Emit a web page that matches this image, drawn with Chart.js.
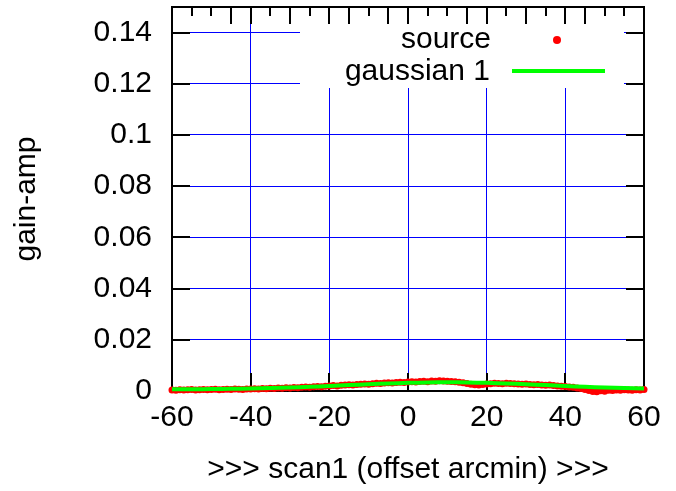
<!DOCTYPE html>
<html>
<head>
<meta charset="utf-8">
<script src="https://cdn.jsdelivr.net/npm/chart.js@4.4.1/dist/chart.umd.min.js"></script>
<style>
html,body{margin:0;padding:0;background:#fff;}
#wrap{width:676px;height:491px;}
</style>
</head>
<body>
<div id="wrap"><canvas id="c" width="676" height="491"></canvas></div>
<script>
// ---- data ----
const xTickLabels = [-60, -40, -20, 0, 20, 40, 60];
const yTickLabels = [0, 0.02, 0.04, 0.06, 0.08, 0.1, 0.12, 0.14];
const sourceX = [];
for (let v = -60; v <= 60; v++) sourceX.push(v);
const sourceY = [
  0.0004,0.0003,0.0005,0.0004,0.0005,0.0006,0.0004,0.0005,0.0006,0.0005,
  0.0006,0.0007,0.0005,0.0006,0.0007,0.0006,0.0008,0.0007,0.0006,0.0008,
  0.0008,0.0009,0.0008,0.0010,0.0009,0.0011,0.0010,0.0012,0.0011,0.0013,
  0.0012,0.0014,0.0013,0.0015,0.0016,0.0015,0.0017,0.0018,0.0017,0.0019,
  0.0020,0.0021,0.0020,0.0022,0.0023,0.0024,0.0023,0.0025,0.0026,0.0027,
  0.0026,0.0028,0.0030,0.0029,0.0031,0.0032,0.0031,0.0033,0.0034,0.0033,
  0.0035,0.0036,0.0035,0.0037,0.0038,0.0036,0.0039,0.0038,0.0040,0.0039,
  0.0038,0.0037,0.0036,0.0034,0.0032,0.0029,0.0026,0.0024,0.0023,0.0025,
  0.0027,0.0028,0.0030,0.0029,0.0028,0.0030,0.0029,0.0028,0.0027,0.0026,
  0.0027,0.0025,0.0024,0.0025,0.0023,0.0022,0.0023,0.0021,0.0020,0.0019,
  0.0018,0.0016,0.0015,0.0012,0.0010,0.0006,0.0002,-0.0002,-0.0003,0.0001,
  -0.0001,0.0003,0.0002,0.0004,0.0003,0.0005,0.0004,0.0003,0.0005,0.0004,
  0.0006
];
const gaussX = [-60,-55,-50,-45,-40,-35,-30,-25,-20,-15,-10,-5,0,5,10,15,20,25,30,35,40,45,50,55,60];
const gaussY = [0.00066,0.00070,0.00076,0.00085,0.00098,0.00115,0.00138,0.00165,0.00196,0.00230,0.00263,0.00294,0.00318,0.00334,0.00340,0.00334,0.00318,0.00294,0.00263,0.00230,0.00196,0.00165,0.00138,0.00115,0.00098];
const seriesNames = ['source', 'gaussian 1'];
const xTitle = '>>> scan1 (offset arcmin) >>>';
const yTitle = 'gain-amp';
// top-border tick pattern (true = long tick), every 5 units from -55 to 55
const topTickLong = [false,false,true,true,false,true,false,true,true,false,true,true,false,false,true,true,false,true,false,true,true,false,false];

const FONT = 'Liberation Sans, Arial, sans-serif';

const framePlugin = {
  id: 'frame',
  beforeDatasetsDraw(chart) {
    const {ctx, chartArea: a, scales: {x, y}} = chart;
    ctx.save();
    // legend background
    ctx.fillStyle = '#fff';
    ctx.fillRect(300, a.top + 1, 324, 80);
    ctx.strokeStyle = '#000';
    ctx.lineWidth = 2;
    ctx.beginPath();
    // left/right ticks
    yTickLabels.forEach(v => {
      if (v === 0) return;
      const py = Math.round(y.getPixelForValue(v));
      ctx.moveTo(a.left, py); ctx.lineTo(a.left + 18, py);
      ctx.moveTo(a.right, py); ctx.lineTo(a.right - 18, py);
    });
    // bottom ticks
    xTickLabels.forEach(v => {
      if (v === -60 || v === 60) return;
      const px = Math.round(x.getPixelForValue(v));
      ctx.moveTo(px, a.bottom); ctx.lineTo(px, a.bottom - 18);
    });
    // top ticks
    topTickLong.forEach((lng, i) => {
      const v = -55 + 5 * i;
      const px = Math.round(x.getPixelForValue(v));
      ctx.moveTo(px, a.top); ctx.lineTo(px, a.top + (lng ? 17 : 9));
    });
    ctx.stroke();
    // frame
    ctx.strokeRect(a.left, a.top, a.right - a.left, a.bottom - a.top);
    // legend
    ctx.fillStyle = '#000';
    ctx.font = '30px ' + FONT;
    ctx.textAlign = 'right';
    ctx.textBaseline = 'alphabetic';
    ctx.fillText(seriesNames[0], 491, 48);
    ctx.fillText(seriesNames[1], 490, 80);
    ctx.fillStyle = '#ff0000';
    ctx.beginPath();
    ctx.arc(557, 40, 4, 0, Math.PI * 2);
    ctx.fill();
    ctx.strokeStyle = '#00ff00';
    ctx.lineWidth = 4;
    ctx.beginPath();
    ctx.moveTo(512, 71); ctx.lineTo(605, 71);
    ctx.stroke();
    ctx.restore();
  }
};

new Chart(document.getElementById('c'), {
  type: 'scatter',
  data: {
    datasets: [
      {
        label: seriesNames[0],
        data: sourceX.map((v, i) => ({x: v, y: sourceY[i]})),
        backgroundColor: '#ff0000',
        borderColor: '#ff0000',
        pointRadius: 3.5,
        pointBorderWidth: 0,
        showLine: false,
        clip: false,
        order: 2
      },
      {
        label: seriesNames[1],
        data: gaussX.map((v, i) => ({x: v, y: gaussY[i]})),
        borderColor: '#00ff00',
        backgroundColor: '#00ff00',
        borderWidth: 4,
        pointRadius: 0,
        showLine: true,
        tension: 0.3,
        clip: false,
        order: 1
      }
    ]
  },
  options: {
    responsive: false,
    animation: false,
    devicePixelRatio: 1,
    layout: {padding: {top: 7, right: 32, left: 0, bottom: 0}},
    plugins: {legend: {display: false}, tooltip: {enabled: false}},
    scales: {
      x: {
        type: 'linear',
        min: -60, max: 60,
        afterFit(s) { s.height = 100; s.paddingLeft = 0; s.paddingRight = 0; },
        afterBuildTicks(s) { s.ticks = xTickLabels.map(v => ({value: v})); },
        ticks: {
          font: {size: 30, family: FONT},
          color: '#000',
          padding: 9,
          maxRotation: 0,
          callback: v => String(v)
        },
        grid: {
          color: c => (c.tick && (c.tick.value === -60 || c.tick.value === 60)) ? 'rgba(0,0,0,0)' : '#0000ff',
          lineWidth: 1,
          drawTicks: false
        },
        border: {display: false},
        title: {
          display: true,
          text: xTitle,
          color: '#000',
          font: {size: 30, family: FONT},
          padding: {top: 0, bottom: 3}
        }
      },
      y: {
        type: 'linear',
        min: 0, max: 0.15,
        afterFit(s) { s.width = 172; s.paddingTop = 0; s.paddingBottom = 0; },
        afterBuildTicks(s) { s.ticks = yTickLabels.map(v => ({value: v})); },
        ticks: {
          font: {size: 30, family: FONT},
          color: '#000',
          padding: 20,
          callback: v => String(Number(v.toFixed(2)))
        },
        grid: {
          color: c => (c.tick && c.tick.value === 0) ? 'rgba(0,0,0,0)' : '#0000ff',
          lineWidth: 1,
          drawTicks: false
        },
        border: {display: false},
        title: {
          display: true,
          text: yTitle,
          color: '#000',
          font: {size: 30, family: FONT},
          padding: {top: 9, bottom: 0}
        }
      }
    }
  },
  plugins: [framePlugin]
});
</script>
</body>
</html>
